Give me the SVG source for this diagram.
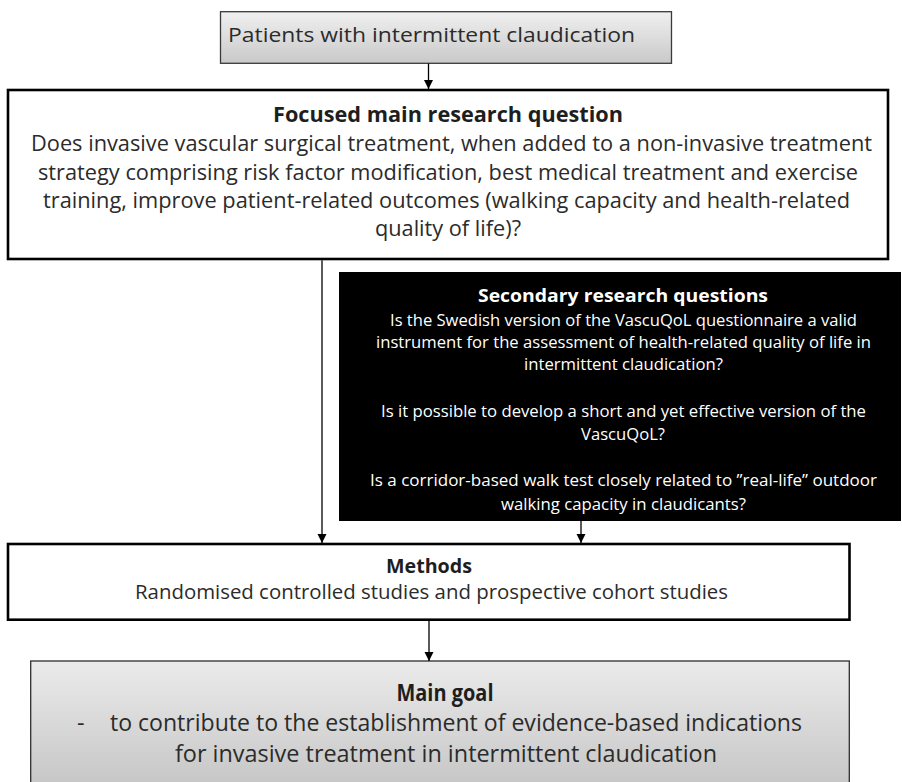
<svg xmlns="http://www.w3.org/2000/svg" width="902" height="782" viewBox="0 0 902 782">
<defs>
<linearGradient id="gTop" x1="0" y1="0" x2="0" y2="1">
<stop offset="0" stop-color="#f0f0f0"/>
<stop offset="1" stop-color="#c9c9c9"/>
</linearGradient>
<linearGradient id="gGoal" gradientUnits="userSpaceOnUse" x1="0" y1="661" x2="0" y2="800">
<stop offset="0" stop-color="#ebebeb"/>
<stop offset="1" stop-color="#c2c2c2"/>
</linearGradient>
<marker id="arr" markerUnits="userSpaceOnUse" markerWidth="10" markerHeight="10" refX="9" refY="4.5" orient="auto">
<path d="M0,0 L9,4.5 L0,9 z" fill="#000"/>
</marker>
<style>
text{font-family:"Open Sans","Liberation Sans",sans-serif;fill:#2b2b2b}
.b{font-weight:bold;fill:#1e1e1e}
.top{font-size:20.5px}
.foc{font-size:22px}
.sec{font-size:16.5px;fill:#ffffff}
.sect{font-size:18px;font-weight:bold;fill:#ffffff}
.met{font-size:20px}
.goal{font-size:23.5px}
.conn line{stroke:#000;stroke-width:1.3}
</style>
</defs>

<g id="patients">
<rect x="220.5" y="11.7" width="451" height="51.6" fill="url(#gTop)" stroke="#3a3a3a" stroke-width="1.3"/>
<text class="top" x="228" y="42" textLength="407" lengthAdjust="spacingAndGlyphs">Patients with intermittent claudication</text>
</g>

<g id="focused">
<rect x="8" y="90" width="880" height="169" fill="#ffffff" stroke="#000" stroke-width="2.6"/>
<text class="foc b" x="273" y="122" textLength="350" lengthAdjust="spacingAndGlyphs">Focused main research question</text>
<text class="foc" x="31" y="151" textLength="841" lengthAdjust="spacingAndGlyphs">Does invasive vascular surgical treatment, when added to a non-invasive treatment</text>
<text class="foc" x="38" y="179.5" textLength="820" lengthAdjust="spacingAndGlyphs">strategy comprising risk factor modification, best medical treatment and exercise</text>
<text class="foc" x="43" y="207.5" textLength="807" lengthAdjust="spacingAndGlyphs">training, improve patient-related outcomes (walking capacity and health-related</text>
<text class="foc" x="375" y="236" textLength="146" lengthAdjust="spacingAndGlyphs">quality of life)?</text>
</g>

<g id="secondary">
<rect x="339" y="272" width="562" height="249" fill="#000000"/>
<text class="sect" x="478" y="302" textLength="290" lengthAdjust="spacingAndGlyphs">Secondary research questions</text>
<text class="sec" x="390" y="326" textLength="467" lengthAdjust="spacingAndGlyphs">Is the Swedish version of the VascuQoL questionnaire a valid</text>
<text class="sec" x="376" y="348" textLength="495" lengthAdjust="spacingAndGlyphs">instrument for the assessment of health-related quality of life in</text>
<text class="sec" x="524" y="370" textLength="199" lengthAdjust="spacingAndGlyphs">intermittent claudication?</text>
<text class="sec" x="381" y="417" textLength="485" lengthAdjust="spacingAndGlyphs">Is it possible to develop a short and yet effective version of the</text>
<text class="sec" x="581" y="440" textLength="84" lengthAdjust="spacingAndGlyphs">VascuQoL?</text>
<text class="sec" x="370" y="486" textLength="507" lengthAdjust="spacingAndGlyphs">Is a corridor-based walk test closely related to  ”real-life” outdoor</text>
<text class="sec" x="501" y="510" textLength="245" lengthAdjust="spacingAndGlyphs">walking capacity in claudicants?</text>
</g>

<g id="methods">
<rect x="8" y="544" width="841.5" height="75.7" fill="#ffffff" stroke="#000" stroke-width="2.6"/>
<text class="met b" x="386" y="573" textLength="86" lengthAdjust="spacingAndGlyphs">Methods</text>
<text class="met" x="135" y="599" textLength="593" lengthAdjust="spacingAndGlyphs">Randomised controlled studies and prospective cohort studies</text>
</g>

<g id="maingoal">
<rect x="30.7" y="661" width="818.6" height="140" fill="url(#gGoal)" stroke="#2e2e2e" stroke-width="1.3"/>
<text class="goal b" x="396.5" y="701" textLength="97" lengthAdjust="spacingAndGlyphs">Main goal</text>
<text class="goal" x="77" y="731">-</text>
<text class="goal" x="110" y="731" textLength="692" lengthAdjust="spacingAndGlyphs">to contribute to the establishment of evidence-based indications</text>
<text class="goal" x="175" y="762" textLength="542" lengthAdjust="spacingAndGlyphs">for invasive treatment in intermittent claudication</text>
</g>

<g id="connectors" class="conn">
<line x1="428.5" y1="63.5" x2="428.5" y2="89" marker-end="url(#arr)"/>
<line x1="322" y1="260.3" x2="322" y2="543" marker-end="url(#arr)"/>
<line x1="581" y1="521" x2="581" y2="543" marker-end="url(#arr)"/>
<line x1="429" y1="621" x2="429" y2="661" marker-end="url(#arr)"/>
</g>
</svg>
